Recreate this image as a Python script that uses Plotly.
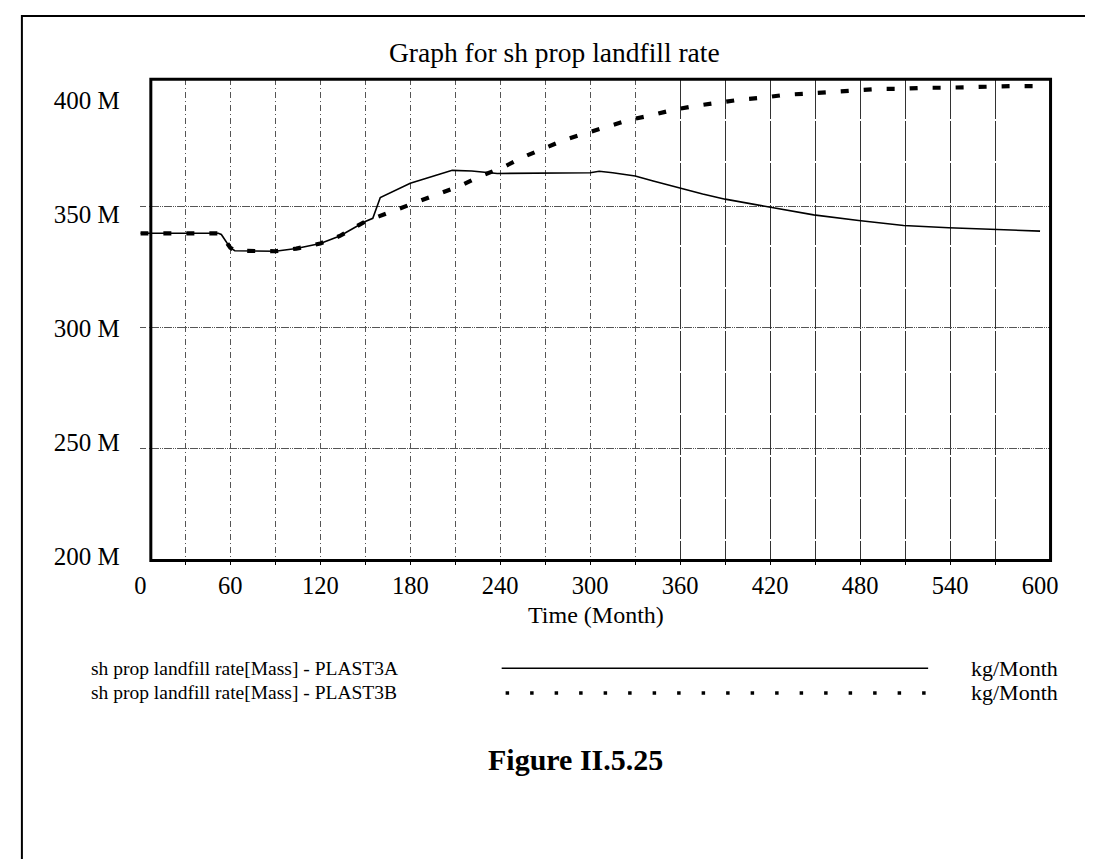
import plotly.graph_objects as go

W, H = 1093, 859

# ---- data (millions kg/Month) ----
time_a = [0, 30, 52, 54, 58, 60, 63, 90, 104, 120, 133, 150, 155, 157, 160, 180, 208, 221, 238,
          300, 306, 315, 330, 342, 360, 375, 390, 418, 449, 479, 509, 539, 570, 600]
plast3a = [339.0, 339.0, 339.0, 338.5, 334.5, 333.0, 331.8, 331.6, 332.7, 334.8, 337.9, 343.9,
           345.2, 348.4, 353.8, 359.7, 365.0, 364.7, 363.7, 364.0, 364.6, 364.0, 362.7, 360.6,
           357.5, 355.2, 353.1, 350.0, 346.6, 344.3, 342.2, 341.3, 340.6, 339.9]

time_b = [0, 30, 52, 54, 58, 60, 63, 90, 104, 120, 133, 150, 159, 173, 187, 200, 214, 228, 242,
          255, 269, 283, 298, 311, 326, 341, 355, 370, 385, 400, 415, 430, 445, 460, 476, 491,
          506, 522, 537, 552, 568, 583, 600]
plast3b = [339.0, 339.0, 339.0, 338.5, 334.5, 333.0, 331.8, 331.6, 332.7, 334.8, 337.9, 343.9,
           346.0, 349.3, 352.2, 355.4, 358.8, 362.9, 366.3, 370.4, 374.2, 377.6, 380.5, 383.1,
           385.8, 387.8, 389.9, 391.6, 393.1, 394.2, 395.0, 396.2, 396.7, 397.3, 398.0, 398.6,
           398.6, 399.1, 399.1, 399.4, 399.8, 399.8, 399.8]

x_ticks = [0, 60, 120, 180, 240, 300, 360, 420, 480, 540, 600]
x_grid_dashed = list(range(30, 331, 30))
x_grid_solid = list(range(360, 571, 30))
y_ticks = [200, 250, 300, 350, 400]
y_ticktext = ["200 M", "250 M", "300 M", "350 M", "400 M"]
y_grid = [250, 300, 350]

title = "Graph for sh prop landfill rate"
x_title = "Time (Month)"
legend_names = ["sh prop landfill rate[Mass] - PLAST3A", "sh prop landfill rate[Mass] - PLAST3B"]
unit = "kg/Month"
caption = "<b>Figure II.5.25</b>"

SERIF = "Liberation Serif, Times New Roman, serif"


def px(x):
    return x / W


def py(y):
    return 1 - y / H


# frame in pixels
FX0, FX1, FY0, FY1 = 138.6, 1050, 72, 559
LEG_Y1, LEG_Y2, FIG_Y = 668, 693, 760

fig = go.Figure()

# data traces on x2 (axis whose 0 sits left of the frame, as in the scan)
fig.add_trace(go.Scatter(x=time_a, y=plast3a, xaxis="x2", yaxis="y", mode="lines",
                         line=dict(color="black", width=1.6), showlegend=False, hoverinfo="skip"))
fig.add_trace(go.Scatter(x=time_b, y=plast3b, xaxis="x2", yaxis="y", mode="lines",
                         line=dict(color="black", width=4.2, dash="8px,15px"),
                         showlegend=False, hoverinfo="skip"))
# invisible helpers so the grid / label axes are drawn
for xa, ya in [("x", "y"), ("x", "y2"), ("x3", "y")]:
    fig.add_trace(go.Scatter(x=[300], y=[300], xaxis=xa, yaxis=ya, mode="markers",
                             marker=dict(opacity=0), showlegend=False, hoverinfo="skip"))

grid_col = "#555555"
fig.update_layout(
    width=W, height=H, margin=dict(l=0, r=0, t=0, b=0),
    paper_bgcolor="white", plot_bgcolor="rgba(0,0,0,0)",
    font=dict(family=SERIF, color="black", size=24),
    xaxis=dict(domain=[px(FX0), px(FX1)], range=[7, 607], anchor="y",
               tickmode="array", tickvals=x_grid_dashed + x_grid_solid, ticktext=[""] * 19,
               showticklabels=False, showgrid=False,
               ticks="outside", ticklen=4, tickcolor="black", zeroline=False, showline=False),
    xaxis3=dict(overlaying="x", anchor="y", range=[7, 607],
                tickmode="array", tickvals=x_grid_dashed, showticklabels=False,
                showgrid=True, gridcolor=grid_col, gridwidth=1, griddash="6px,3px,1px,3px",
                ticks="", zeroline=False, showline=False),
    xaxis4=dict(overlaying="x", anchor="y", range=[7, 607],
                tickmode="array", tickvals=x_grid_solid, showticklabels=False,
                showgrid=True, gridcolor="#333333", gridwidth=1, griddash="40px,2px",
                ticks="", zeroline=False, showline=False),
    xaxis2=dict(domain=[px(128), px(FX1)], range=[0, 607], anchor="y",
                tickmode="array", tickvals=x_ticks, ticktext=[str(v) for v in x_ticks],
                showgrid=False, zeroline=False, showline=False, ticks="",
                tickfont=dict(size=24.5, family=SERIF), ticklabelstandoff=8),
    yaxis=dict(domain=[py(FY1), py(FY0)], range=[203.9, 402.65], anchor="x",
               tickmode="array", tickvals=y_grid, showticklabels=False,
               showgrid=True, gridcolor=grid_col, gridwidth=1, griddash="6px,3px,1px,3px",
               zeroline=False, showline=False, ticks=""),
    yaxis2=dict(overlaying="y", anchor="x", side="left", range=[198.27, 409.09],
                tickmode="array", tickvals=y_ticks, ticktext=y_ticktext,
                showgrid=False, zeroline=False, showline=False, ticks="",
                tickfont=dict(size=25, family=SERIF), ticklabelstandoff=30),
)
fig.add_trace(go.Scatter(x=[300], y=[300], xaxis="x4", yaxis="y", mode="markers",
                         marker=dict(opacity=0), showlegend=False, hoverinfo="skip"))

shapes = [
    # outer page frame
    dict(type="rect", xref="paper", yref="paper", x0=px(8), x1=px(1120), y0=py(900), y1=py(8),
         line=dict(color="black", width=2)),
    # plot frame
    dict(type="rect", xref="paper", yref="paper", x0=px(FX0), x1=px(FX1), y0=py(FY1), y1=py(FY0),
         line=dict(color="black", width=3)),
    # legend samples
    dict(type="line", xref="paper", yref="paper", x0=px(494), x1=px(926), y0=py(LEG_Y1), y1=py(LEG_Y1),
         line=dict(color="black", width=1.6)),
    dict(type="line", xref="paper", yref="paper", x0=px(498), x1=px(926), y0=py(LEG_Y2), y1=py(LEG_Y2),
         line=dict(color="black", width=3.5, dash="3.5px,21px")),
]

annotations = [
    dict(text=title, x=px(548), y=py(45), xref="paper", yref="paper", showarrow=False,
         font=dict(size=27.5, family=SERIF), xanchor="center", yanchor="middle"),
    dict(text=x_title, x=px(590), y=py(614), xref="paper", yref="paper", showarrow=False,
         font=dict(size=24, family=SERIF), xanchor="center", yanchor="middle"),
    dict(text=legend_names[0], x=px(76), y=py(LEG_Y1), xref="paper", yref="paper", showarrow=False,
         font=dict(size=19.5, family=SERIF), xanchor="left", yanchor="middle"),
    dict(text=legend_names[1], x=px(76), y=py(LEG_Y2), xref="paper", yref="paper", showarrow=False,
         font=dict(size=19.5, family=SERIF), xanchor="left", yanchor="middle"),
    dict(text=unit, x=px(1060), y=py(LEG_Y1), xref="paper", yref="paper", showarrow=False,
         font=dict(size=22, family=SERIF), xanchor="right", yanchor="middle"),
    dict(text=unit, x=px(1060), y=py(LEG_Y2), xref="paper", yref="paper", showarrow=False,
         font=dict(size=22, family=SERIF), xanchor="right", yanchor="middle"),
    dict(text=caption, x=px(569), y=py(FIG_Y), xref="paper", yref="paper", showarrow=False,
         font=dict(size=30, family=SERIF), xanchor="center", yanchor="middle"),
]

fig.update_layout(shapes=shapes, annotations=annotations)

fig.write_html("out.html")
